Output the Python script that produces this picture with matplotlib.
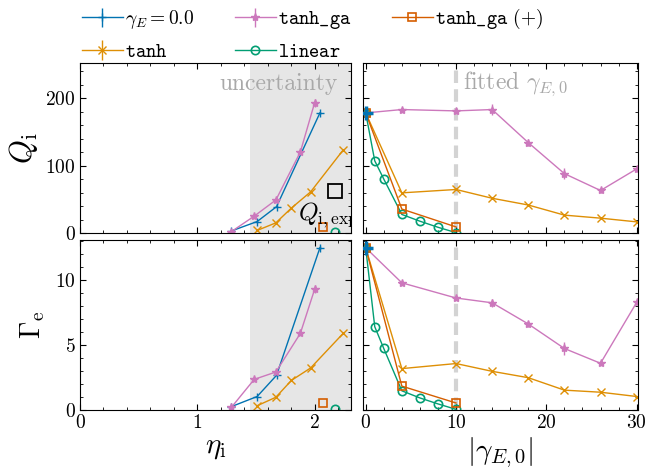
import numpy as np
import matplotlib
matplotlib.use("Agg")
import matplotlib.pyplot as plt

plt.rcParams['font.family'] = 'serif'
plt.rcParams['font.serif'] = ['cmr10', 'DejaVu Serif']
plt.rcParams['mathtext.fontset'] = 'cm'
plt.rcParams['axes.formatter.use_mathtext'] = True
plt.rcParams['axes.unicode_minus'] = False

# colours (seaborn colorblind)
c_blue = '#0173b2'
c_tanh = '#de8f05'
c_ga = '#cc78bc'
c_gap = '#d55e00'
c_lin = '#029e73'

# --- left panels: scan in eta_i ---
eta_g0 = [1.29, 1.51, 1.675, 2.045]
Q_g0 = [3, 17, 39, 178]
G_g0 = [0.26, 1.04, 2.67, 12.5]

eta_ga = [1.29, 1.485, 1.67, 1.878, 2.0]
Q_ga = [2, 25, 49, 120, 193]
G_ga = [0.2, 2.36, 2.93, 5.9, 9.3]
Qerr_ga = [1, 2, 2, 3, 6]
Gerr_ga = [0.05, 0.1, 0.1, 0.15, 0.3]

eta_tanh = [1.513, 1.669, 1.802, 1.966, 2.243]
Q_tanh = [4, 15, 37, 61, 123]
G_tanh = [0.34, 0.98, 2.28, 3.24, 5.9]

eta_gap = [2.074]
Q_gap = [9]
G_gap = [0.52]

eta_lin = [2.172]
Q_lin = [1]
G_lin = [0.08]

eta_unc = (1.45, 2.31)
eta_exp, Q_exp = 2.174, 62

# --- right panels: scan in |gamma_E,0| ---
gam_ga = [0, 4, 10, 14, 18, 22, 26, 30]
Qr_ga = [178, 183, 181, 183, 134, 88, 63, 95]
Qr_ga_err = [2, 3, 3, 8, 5, 8, 4, 4]
Gr_ga = [12.5, 9.8, 8.63, 8.26, 6.63, 4.74, 3.6, 8.29]
Gr_ga_err = [0.1, 0.15, 0.15, 0.3, 0.2, 0.5, 0.15, 0.2]

gam_tanh = [0, 4, 10, 14, 18, 22, 26, 30]
Qr_tanh = [178, 59.5, 64.5, 51.5, 41.5, 26.5, 22, 16.5]
Gr_tanh = [12.5, 3.19, 3.58, 2.98, 2.49, 1.53, 1.37, 1.04]

gam_gap = [0, 4, 10]
Qr_gap = [178, 35.5, 9]
Gr_gap = [12.5, 1.84, 0.54]

gam_lin = [0, 1, 2, 4, 6, 8, 10]
Qr_lin = [178, 107, 80, 27.5, 17.5, 8.5, 0.5]
Gr_lin = [12.5, 6.42, 4.74, 1.48, 0.93, 0.47, 0.05]

gam_fit = 10

fig = plt.figure(figsize=(6.6, 4.69), dpi=100)
W, H = 660, 469
def box(x0, y0, x1, y1):
    return [x0 / W, 1 - y1 / H, (x1 - x0) / W, (y1 - y0) / H]

axQl = fig.add_axes(box(80, 63, 351, 233))
axGl = fig.add_axes(box(80, 240, 351, 410))
axQr = fig.add_axes(box(363, 63, 638, 233))
axGr = fig.add_axes(box(363, 240, 638, 410))

lw = 1.0
ms = 6
def st(color, marker, open_=False):
    d = dict(color=color, marker=marker, lw=lw, ms=ms, elinewidth=1, capsize=0)
    if open_:
        d.update(mfc='none', mew=1.2)
    return d

h = {}
for ax, Qg0, Qga, Qtanh, Qgap, Qlin, eg in [
        (axQl, Q_g0, Q_ga, Q_tanh, Q_gap, Q_lin, Qerr_ga),
        (axGl, G_g0, G_ga, G_tanh, G_gap, G_lin, Gerr_ga)]:
    ax.axvspan(*eta_unc, color='#e6e6e6', lw=0, zorder=0)
    h['g0'] = ax.errorbar(eta_g0, Qg0, yerr=0.01 * np.array(Qg0), **st(c_blue, '+'))
    h['tanh'] = ax.errorbar(eta_tanh, Qtanh, yerr=0.01 * np.array(Qtanh), **st(c_tanh, 'x'))
    h['ga'] = ax.errorbar(eta_ga, Qga, yerr=eg, **st(c_ga, '*'))
    h['lin'] = ax.errorbar(eta_lin, Qlin, **st(c_lin, 'o', True))
    h['gap'] = ax.errorbar(eta_gap, Qgap, **st(c_gap, 's', True))
    ax.set_xlim(0, 2.31)

for ax, Qga, Qga_e, Qtanh, Qgap, Qlin in [
        (axQr, Qr_ga, Qr_ga_err, Qr_tanh, Qr_gap, Qr_lin),
        (axGr, Gr_ga, Gr_ga_err, Gr_tanh, Gr_gap, Gr_lin)]:
    ax.axvline(gam_fit, color='#d3d3d3', lw=3, ls=(0, (3, 1.5)), zorder=0)
    ax.errorbar(gam_ga, Qga, yerr=Qga_e, **st(c_ga, '*'))
    ax.errorbar(gam_tanh, Qtanh, yerr=0.02 * np.array(Qtanh), **st(c_tanh, 'x'))
    ax.errorbar(gam_lin, Qlin, **st(c_lin, 'o', True))
    ax.errorbar(gam_gap, Qgap, **st(c_gap, 's', True))
    ax.errorbar([0], [Qga[0]], xerr=[0.3], color=c_blue, marker='+', ms=10, mew=2.5,
                elinewidth=2.5, lw=0, zorder=5)
    ax.set_xlim(-0.3, 30.15)

for ax in (axQl, axQr):
    ax.set_ylim(0, 252)
    ax.set_yticks([0, 100, 200])
    ax.set_yticks(np.arange(0, 252, 20), minor=True)
for ax in (axGl, axGr):
    ax.set_ylim(0, 13.1)
    ax.set_yticks([0, 5, 10])
    ax.set_yticks(np.arange(0, 13.1, 1), minor=True)
for ax in (axQl, axGl):
    ax.set_xticks([0, 1, 2])
    ax.set_xticks(np.arange(0, 2.31, 0.2), minor=True)
for ax in (axQr, axGr):
    ax.set_xticks([0, 10, 20, 30])
    ax.set_xticks(np.arange(0, 30.1, 2), minor=True)
axQl.set_xticklabels([])
axQr.set_xticklabels([])
axQr.set_yticklabels([])
axGr.set_yticklabels([])

for ax in (axQl, axGl, axQr, axGr):
    ax.tick_params(which='both', direction='in', top=True, right=True, labelsize=14, pad=3)
    ax.tick_params(which='major', length=4)
    ax.tick_params(which='minor', length=2)

axQl.set_ylabel(r'$Q_\mathrm{i}$', fontsize=22, labelpad=4)
axGl.set_ylabel(r'$\Gamma_\mathrm{e}$', fontsize=20, labelpad=6)
axGl.set_xlabel(r'$\eta_\mathrm{i}$', fontsize=21, labelpad=2)
axGr.set_xlabel(r'$|\gamma_{E,0}|$', fontsize=21, labelpad=2)

axQl.text(0.952, 0.84, 'uncertainty', transform=axQl.transAxes, ha='right',
          fontsize=17, color='#a9a9a9')
axQr.text(10.8, 0.85 * 252, r'fitted $\gamma_{E,0}$', ha='left',
          fontsize=17, color='#a9a9a9')
axQl.plot([eta_exp], [Q_exp], marker='s', ms=9.5, mfc='none', mec='k', mew=1.3, lw=0)
axQl.text(0.804, 0.076, r'$Q_\mathrm{i,exp}$', transform=axQl.transAxes, ha='left',
          va='baseline', fontsize=18, clip_on=True)

handles = [h['g0'], h['tanh'], h['ga'], h['lin'], h['gap']]
labels = [r'$\gamma_E = 0.0$', r'$\mathtt{tanh}$', r'$\mathtt{tanh\_ga}$',
          r'$\mathtt{linear}$', r'$\mathtt{tanh\_ga}$ $(+)$']
fig.legend(handles, labels, loc='upper left', bbox_to_anchor=(82 / W, 1 - 7 / H), ncol=3,
           frameon=False, fontsize=14, handlelength=2.1, handletextpad=0.1,
           columnspacing=2.1, labelspacing=0.6, borderpad=0, borderaxespad=0)

fig.savefig('out.png', dpi=100)
